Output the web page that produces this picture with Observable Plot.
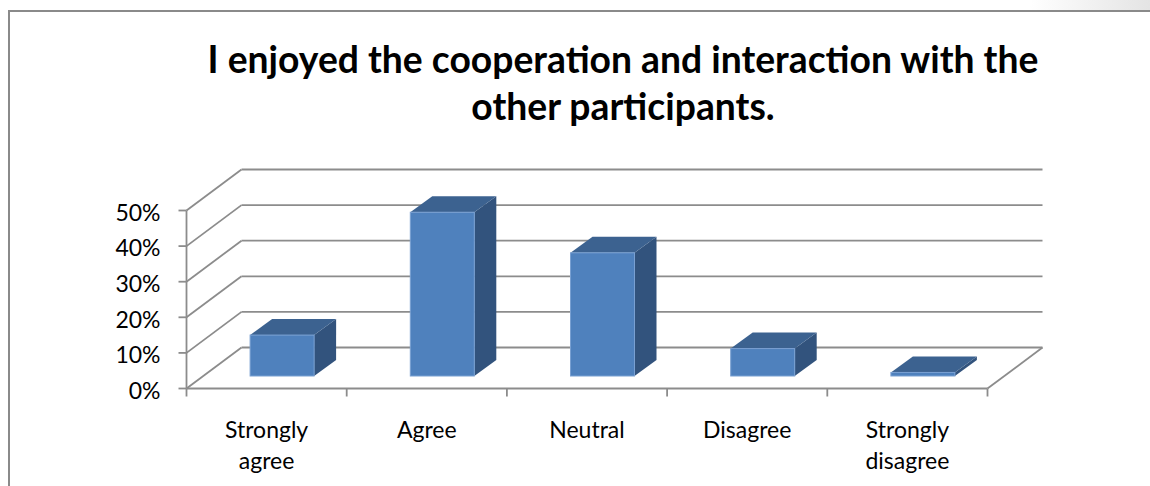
<!DOCTYPE html>
<html><head><meta charset="utf-8">
<script src="https://cdn.jsdelivr.net/npm/d3@7"></script>
<script src="https://cdn.jsdelivr.net/npm/@observablehq/plot@0.6"></script>
<style>
html,body{margin:0;padding:0;background:#fff;}
#page{position:relative;width:1150px;height:486px;overflow:hidden;font-family:Lato,sans-serif;}
#frame{position:absolute;left:8px;top:10px;width:1200px;height:600px;border-left:2px solid #8a8a8a;border-top:2px solid #8a8a8a;}
#shade{position:absolute;left:1030px;top:0;width:120px;height:10px;background:linear-gradient(to right, rgba(235,235,235,0), rgba(228,228,228,1));}
#title{position:absolute;left:0;top:35px;width:1246px;text-align:center;font-weight:700;line-height:47px;color:#000;white-space:nowrap;}
#chart{position:absolute;left:0;top:150px;}
</style></head>
<body><div id="page"><div id="shade"></div><div id="frame"></div><div id="title"></div><div id="chart"></div></div>
<script>
// ---- data ----
const titleLines = ["I enjoyed the cooperation and interaction with the", "other participants."];
const categories = ["Strongly agree", "Agree", "Neutral", "Disagree", "Strongly disagree"];
const categoryLabels = ["Strongly\nagree", "Agree", "Neutral", "Disagree", "Strongly\ndisagree"];
const shares = [0.115, 0.46, 0.346, 0.077, 0.01];
const yTicks = [0, 0.1, 0.2, 0.3, 0.4, 0.5];

// ---- title (fitted to the reference width) ----
const titleEl = document.getElementById("title");
const ctx = document.createElement("canvas").getContext("2d");
ctx.font = "700 100px Lato";
const tw = ctx.measureText(titleLines[0]).width;
const titleSize = Math.min(40, 100 * 832 / tw);
titleEl.style.fontSize = titleSize + "px";
titleLines.forEach(t => { const d = document.createElement("div"); d.textContent = t; titleEl.appendChild(d); });

// ---- layout ----
const W = 1150, H = 336;
const X0 = 186, X1 = 987, Y0 = 238, Y1 = 60;
const pxX = (X1 - X0) / categories.length, pxY = (Y0 - Y1) / 0.5;
const ux = p => p / pxX, uy = p => p / pxY;
const WALL_X = ux(55), WALL_Y = uy(41);
const BAR_HALF = ux(32), BAR_SHIFT_X = ux(16), BAR_SHIFT_Y = uy(12), BAR_DX = ux(22), BAR_DY = uy(16);
const GRID = "#8c8c8c", GW = 1.8;

const bars = categories.map((c, i) => ({
  c, v: shares[i],
  L: i + 0.5 - BAR_HALF + BAR_SHIFT_X, R: i + 0.5 + BAR_HALF + BAR_SHIFT_X,
  b: BAR_SHIFT_Y, t: shares[i] + BAR_SHIFT_Y
}));
const sideFaces = bars.flatMap(d => [
  {c: d.c, x: d.R, y1: d.b, y2: d.t},
  {c: d.c, x: d.R + BAR_DX, y1: d.b + BAR_DY, y2: d.t + BAR_DY}
]);
const topFaces = bars.flatMap(d => [
  {c: d.c, y: d.t, x1: d.L, x2: d.R},
  {c: d.c, y: d.t + BAR_DY, x1: d.L + BAR_DX, x2: d.R + BAR_DX}
]);
const n = categories.length;

const chart = Plot.plot({
  width: W, height: H,
  marginLeft: X0, marginRight: W - X1, marginTop: Y1, marginBottom: H - Y0,
  x: {type: "linear", domain: [0, n], range: [X0, X1], axis: null},
  y: {type: "linear", domain: [0, 0.5], range: [Y0, Y1], axis: null},
  style: {fontFamily: "Lato, sans-serif", fontSize: "23px", color: "#000", background: "transparent", overflow: "visible"},
  marks: [
    // back wall gridlines
    Plot.link(yTicks, {x1: () => WALL_X, x2: () => n + WALL_X, y1: d => d + WALL_Y, y2: d => d + WALL_Y, stroke: GRID, strokeWidth: GW}),
    // side wall diagonals
    Plot.link(yTicks, {x1: () => 0, y1: d => d, x2: () => WALL_X, y2: d => d + WALL_Y, stroke: GRID, strokeWidth: GW}),
    // floor front edge and right edge
    Plot.link([0], {x1: () => 0, x2: () => n, y1: () => 0, y2: () => 0, stroke: GRID, strokeWidth: GW}),
    Plot.link([0], {x1: () => n, y1: () => 0, x2: () => n + WALL_X, y2: () => WALL_Y, stroke: GRID, strokeWidth: GW}),
    // y axis line and ticks
    Plot.link([0], {x1: () => 0, x2: () => 0, y1: () => 0, y2: () => 0.5, stroke: GRID, strokeWidth: GW}),
    Plot.link(yTicks, {x1: () => -ux(8), x2: () => 0, y1: d => d, y2: d => d, stroke: GRID, strokeWidth: GW}),
    // x ticks at category boundaries
    Plot.link(d3.range(n + 1), {x1: d => d, x2: d => d, y1: () => 0, y2: () => -uy(8), stroke: GRID, strokeWidth: GW}),
    // bars
    Plot.areaY(sideFaces, {x: "x", y1: "y1", y2: "y2", z: "c", fill: "#32537d"}),
    Plot.areaX(topFaces, {y: "y", x1: "x1", x2: "x2", z: "c", fill: "#3c6290"}),
    Plot.rect(bars, {x1: "L", x2: "R", y1: "b", y2: "t", fill: "#4f81bd", stroke: "#79a0d2", strokeWidth: 1}),
    // labels
    Plot.axisY({ticks: yTicks, tickFormat: d3.format(".0%"), tickSize: 0, tickPadding: 26, dy: 3, fontSize: 23, fill: "#000"}),
    Plot.text(categoryLabels, {x: (d, i) => i + 0.5, y: () => 0, text: d => d, lineAnchor: "top", dy: 27, fontSize: 23, lineHeight: 1.36, fill: "#000"})
  ]
});
document.getElementById("chart").appendChild(chart);
</script>
</body></html>
